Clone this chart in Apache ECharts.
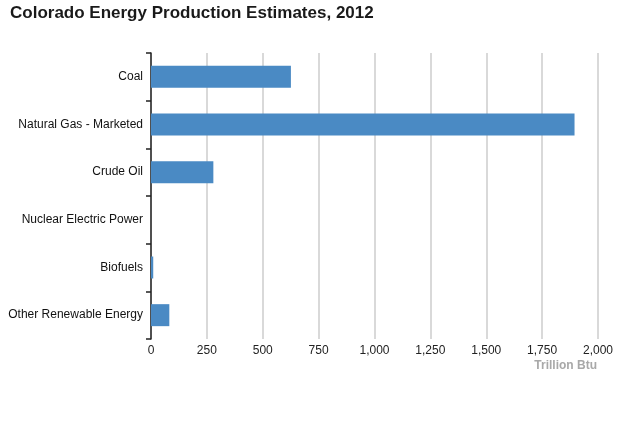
<!DOCTYPE html>
<html>
<head>
<meta charset="utf-8">
<script src="https://cdn.jsdelivr.net/npm/echarts@6/dist/echarts.min.js"></script>
<style>html,body{margin:0;padding:0;background:#fff}#c{width:640px;height:426px}</style>
</head>
<body>
<div id="c"></div>
<script>
const titleText = 'Colorado Energy Production Estimates, 2012';
const categories = ['Coal', 'Natural Gas - Marketed', 'Crude Oil', 'Nuclear Electric Power', 'Biofuels', 'Other Renewable Energy'];
const values = [626, 1895, 279, 0, 10, 82];
const xTicks = [0, 250, 500, 750, 1000, 1250, 1500, 1750, 2000];
const unitLabel = 'Trillion Btu';

const chart = echarts.init(document.getElementById('c'), null, {renderer: 'canvas'});
chart.setOption({
  backgroundColor: '#ffffff',
  animation: false,
  title: {
    text: titleText,
    left: 5, top: 0,
    textStyle: {fontFamily: 'Liberation Sans, Arial', fontWeight: 'bold', fontSize: 17, color: '#1a1a1a'}
  },
  grid: {left: 151, right: 42, top: 53, bottom: 87, containLabel: false},
  xAxis: {
    type: 'value',
    min: xTicks[0], max: xTicks[xTicks.length - 1], interval: 250,
    axisLine: {show: false},
    axisTick: {show: false},
    splitLine: {show: true, lineStyle: {color: '#cccccc', width: 1.5}},
    axisLabel: {
      margin: 6, color: '#222', fontSize: 12, fontFamily: 'Liberation Sans, Arial',
      formatter: v => v.toLocaleString('en-US')
    },
    name: unitLabel,
    nameLocation: 'end',
    nameGap: -1,
    nameTextStyle: {
      color: '#a8a8a8', fontWeight: 'bold', fontSize: 12, fontFamily: 'Liberation Sans, Arial',
      align: 'right', verticalAlign: 'top', padding: [21, 0, 0, 0]
    }
  },
  yAxis: {
    type: 'category',
    data: categories,
    inverse: true,
    axisLine: {show: true, lineStyle: {color: '#222', width: 1.5}},
    axisTick: {show: true, length: 5, lineStyle: {color: '#222', width: 1.5}},
    axisLabel: {margin: 8, color: '#111', fontSize: 12, fontFamily: 'Liberation Sans, Arial'},
    splitLine: {show: false}
  },
  series: [{
    type: 'bar',
    data: values,
    barWidth: 22,
    itemStyle: {color: '#4a8ac4'}
  }]
});
</script>
</body>
</html>
